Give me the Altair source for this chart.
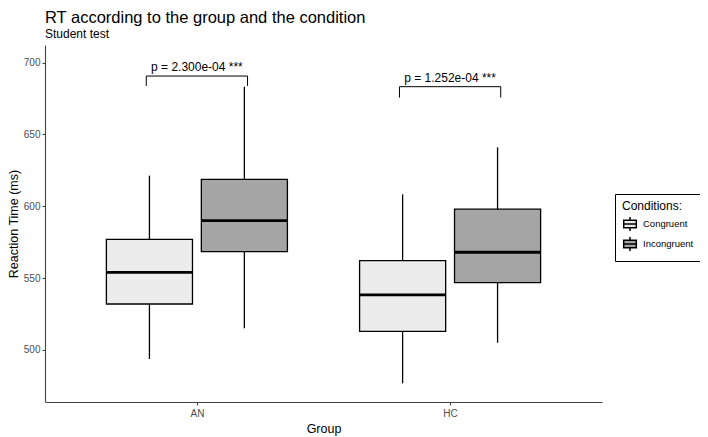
import altair as alt
import pandas as pd

# ---- data ----
groups = ["AN", "HC"]
conditions = ["Congruent", "Incongruent"]

box_group = ["AN", "AN", "HC", "HC"]
box_condition = ["Congruent", "Incongruent", "Congruent", "Incongruent"]
whisker_low = [493.7, 515.1, 476.8, 505.1]
q1 = [532.0, 568.4, 513.0, 546.8]
median = [554.0, 590.0, 538.3, 568.0]
q3 = [577.0, 618.7, 562.1, 598.0]
whisker_high = [621.3, 683.2, 608.3, 641.0]

sig_group = ["AN", "HC"]
sig_bar_y = [690.6, 683.2]
sig_tip_y = [683.7, 675.6]
sig_label = ["p = 2.300e-04 ***", "p = 1.252e-04 ***"]

fill_colors = ["#ECECEC", "#A5A5A5"]

# ---- tables ----
dodge = 0.1875
half_box = 0.17
bracket_half = 0.2
gidx = {g: i + 1 for i, g in enumerate(groups)}
cidx = {"Congruent": -1, "Incongruent": 1}

box = pd.DataFrame({
    "Group": box_group, "Condition": box_condition,
    "low": whisker_low, "q1": q1, "median": median, "q3": q3, "high": whisker_high,
})
box["pos"] = [gidx[g] + cidx[c] * dodge for g, c in zip(box_group, box_condition)]
box["left"] = box["pos"] - half_box
box["right"] = box["pos"] + half_box

sig = pd.DataFrame({"Group": sig_group, "bar": sig_bar_y, "tip": sig_tip_y, "label": sig_label})
sig["pos"] = [gidx[g] for g in sig_group]
sig["left"] = sig["pos"] - bracket_half
sig["right"] = sig["pos"] + bracket_half

FONT = "Liberation Sans"

xscale = alt.Scale(domain=[0.4, 2.6], nice=False, zero=False)
yscale = alt.Scale(domain=[463.8, 712.2], nice=False, zero=False)

xaxis = alt.Axis(
    values=[1, 2], labelExpr="datum.value == 1 ? 'AN' : 'HC'", title="Group",
    grid=False, tickSize=3, labelPadding=3, titlePadding=4,
)
yaxis = alt.Axis(
    values=[500, 550, 600, 650, 700], title="Reaction Time (ms)",
    grid=False, tickSize=3, labelPadding=2, titlePadding=3,
)

base = alt.Chart(box)

whiskers = base.mark_rule(color="black", strokeWidth=1.3).encode(
    x=alt.X("pos:Q", scale=xscale, axis=xaxis),
    y=alt.Y("low:Q", scale=yscale, axis=yaxis),
    y2="high:Q",
)

boxes = base.mark_bar(stroke="black", strokeWidth=1.3).encode(
    x="left:Q", x2="right:Q",
    y="q1:Q", y2="q3:Q",
    fill=alt.Fill(
        "Condition:N",
        scale=alt.Scale(domain=conditions, range=fill_colors),
        legend=alt.Legend(
            title="Conditions:", orient="none", legendX=570, legendY=149,
            strokeColor="black", padding=7, fillColor="white",
            symbolType="M0,-1V-0.55M-0.9,-0.55H0.9V0.55H-0.9ZM-0.9,0H0.9M0,0.55V1",
            symbolSize=196, symbolStrokeColor="black", symbolStrokeWidth=1.5,
            rowPadding=0, titlePadding=3, labelOffset=5,
        ),
    ),
)

medians = base.mark_rule(color="black", strokeWidth=2.8).encode(
    x="left:Q", x2="right:Q", y="median:Q",
)

sbase = alt.Chart(sig)
bracket_h = sbase.mark_rule(color="black", strokeWidth=1).encode(
    x="left:Q", x2="right:Q", y="bar:Q",
)
bracket_l = sbase.mark_rule(color="black", strokeWidth=1).encode(
    x="left:Q", y="tip:Q", y2="bar:Q",
)
bracket_r = sbase.mark_rule(color="black", strokeWidth=1).encode(
    x="right:Q", y="tip:Q", y2="bar:Q",
)
sig_text = sbase.mark_text(
    font=FONT, fontSize=12, color="black", align="center", baseline="alphabetic", dy=-5,
).encode(x="pos:Q", y="bar:Q", text="label:N")

chart = alt.layer(
    whiskers, boxes, medians, bracket_h, bracket_l, bracket_r, sig_text
).properties(
    width=557, height=357,
    autosize=alt.AutoSizeParams(type="none"),
    padding={"left": 37, "top": 37, "right": 98, "bottom": 35},
    title=alt.TitleParams(
        text="RT according to the group and the condition",
        subtitle="Student test",
        anchor="start", frame="group", font=FONT, subtitleFont=FONT,
        fontSize=16.5, subtitleFontSize=12, fontWeight="normal",
        color="black", subtitleColor="black", offset=5, subtitlePadding=3,
    ),
).configure_view(
    strokeWidth=0
).configure_axis(
    labelFont=FONT, titleFont=FONT, labelFontSize=10, titleFontSize=12.5,
    labelColor="#4D4D4D", titleColor="black", titleFontWeight="normal",
    domainColor="#444444", tickColor="#444444", domainWidth=1.1, tickWidth=1.1,
).configure_legend(
    labelFont=FONT, titleFont=FONT, labelFontSize=9.5, titleFontSize=12,
    labelColor="black", titleColor="black", titleFontWeight="normal",
)

chart.save("out.html", embed_options={"renderer": "svg", "actions": False})
